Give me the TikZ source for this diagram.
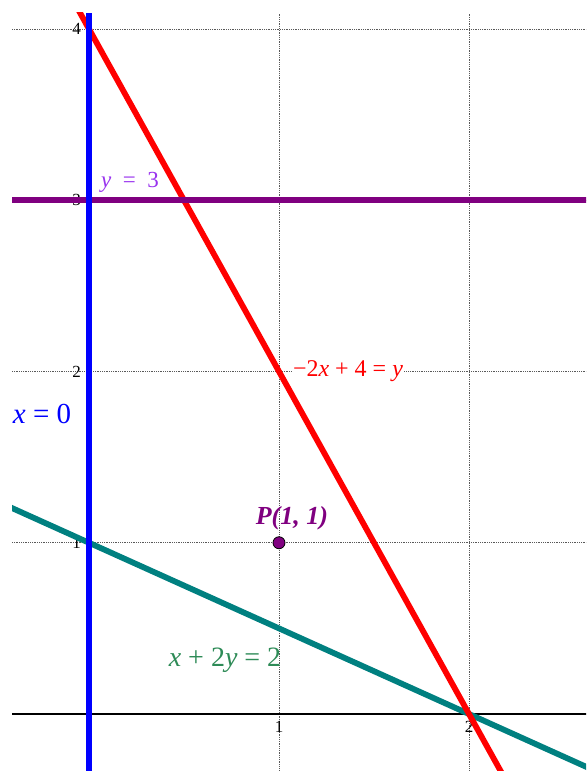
\documentclass[tikz,border=0pt]{standalone}
\usepackage{fontspec}
\setmainfont{Liberation Serif}
\definecolor{linepurple}{HTML}{800080}
\definecolor{labelviolet}{HTML}{9933EE}
\definecolor{lineteal}{HTML}{008080}
\definecolor{labelgreen}{HTML}{2E8B57}
\begin{document}
\begin{tikzpicture}[x=190pt, y=171.25pt,
  grid line/.style={densely dotted, gray!70!black, line width=0.8pt},
  graph line/.style={line width=5.8pt},
  tick label/.style={font=\fontsize{17}{17}\selectfont, inner sep=0pt},
  eqn/.style={inner sep=1pt}]
  \useasboundingbox (-0.4684,-0.3328) rectangle (2.6158,4.1693);
  \coordinate (bl) at (-0.405,-0.3328);
  \coordinate (tr) at (2.6158,4.0935);
  \begin{scope}
    \clip (bl) rectangle (tr);
    \foreach \y in {1,2,3,4}
      \draw[grid line] (-0.405,\y) -- (2.62,\y);
    \foreach \x in {1,2}
      \draw[grid line] (\x,-0.34) -- (\x,4.0935);
    \draw[line width=1.2pt] (-0.405,0) -- (2.62,0);
    \foreach \x in {1,2}
      \node[tick label, below] (xt\x) at (\x,-0.04) {\x};
    \foreach \y in {1,2,3,4}
      \node[tick label, left] (yt\y) at (-0.042,\y) {\y};
    \node[eqn, fill=white, text=red, font=\fontsize{24}{24}\selectfont] (redlabel) at (1.363,2.003) {−2\textit{x} + 4 = \textit{y}};
    \coordinate (tealstart) at (-0.5,1.25);
    \coordinate (tealend) at (2.7,-0.35);
    \draw[graph line, lineteal] (tealstart) -- (tealend);
    \coordinate (redstart) at (-0.1,4.2);
    \coordinate (redend) at (2.2,-0.4);
    \draw[graph line, red] (redstart) -- (redend);
    \coordinate (purplestart) at (-0.405,3);
    \coordinate (purpleend) at (2.62,3);
    \draw[graph line, linepurple] (purplestart) -- (purpleend);
    \coordinate (bluestart) at (0,-0.34);
    \coordinate (blueend) at (0,4.0935);
    \draw[line width=6.5pt, blue] (bluestart) -- (blueend);
  \end{scope}
  \node[eqn, text=labelviolet, font=\fontsize{23}{23}\selectfont] (horizlabel) at (0.216,3.107) {\textit{y}\enspace=\enspace3};
  \node[eqn, text=blue, font=\fontsize{29}{29}\selectfont] (vertlabel) at (-0.247,1.752) {\textit{x} = 0};
  \node[eqn, text=labelgreen, font=\fontsize{28}{28}\selectfont] (teallabel) at (0.716,0.315) {\textit{x} + 2\textit{y} = 2};
  \node[circle, fill=linepurple, draw=black, line width=0.8pt, minimum size=12pt, inner sep=0pt] (P) at (1,1) {};
  \node[eqn, text=linepurple, font=\fontsize{26}{26}\selectfont\bfseries\itshape] (Plabel) at (1.068,1.145) {P(1, 1)};
\end{tikzpicture}
\end{document}
